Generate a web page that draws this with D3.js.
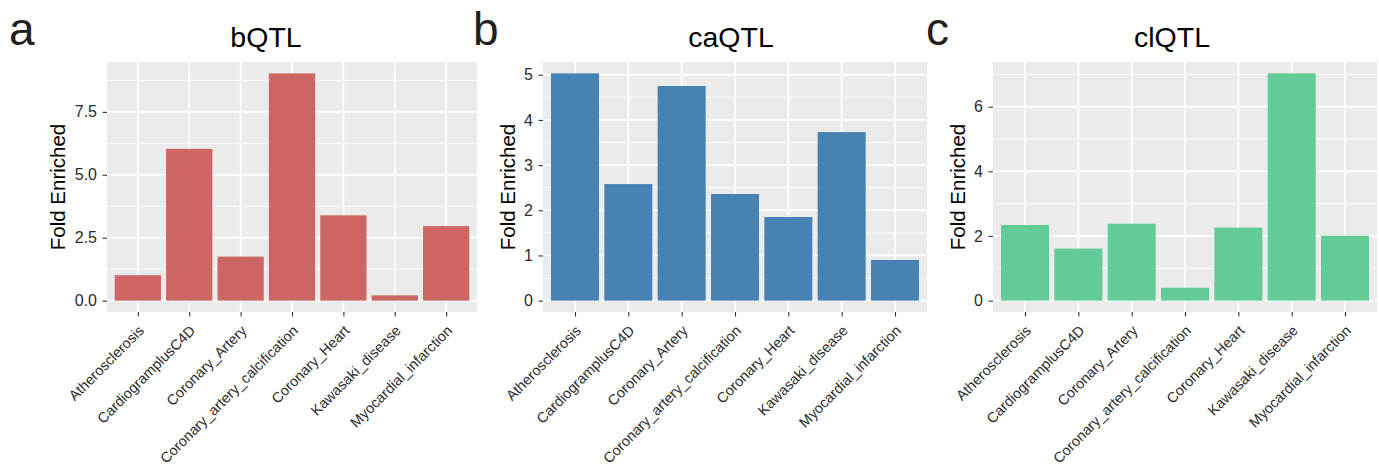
<!DOCTYPE html>
<html>
<head>
<meta charset="utf-8">
<script src="https://cdn.jsdelivr.net/npm/d3@7"></script>
<style>
  body { margin: 0; background: #fff; }
  svg { font-family: "Liberation Sans", Arial, sans-serif; }
</style>
</head>
<body>
<svg id="chart" width="1379" height="466"></svg>
<script>
'use strict';

// data
let categories = ['Atherosclerosis', 'CardiogramplusC4D', 'Coronary_Artery',
    'Coronary_artery_calcification', 'Coronary_Heart', 'Kawasaki_disease', 'Myocardial_infarction'];
let bqtl = [1.01, 6.03, 1.75, 9.03, 3.39, 0.21, 2.96];
let caqtl = [5.03, 2.58, 4.75, 2.36, 1.85, 3.73, 0.90];
let clqtl = [2.34, 1.61, 2.38, 0.40, 2.26, 7.03, 2.01];
let titles = ['bQTL', 'caQTL', 'clQTL'];
let letters = ['a', 'b', 'c'];
let bqtlTicks = [0, 2.5, 5, 7.5];
let caqtlTicks = [0, 1, 2, 3, 4, 5];
let clqtlTicks = [0, 2, 4, 6];
let tickFormats = [d3.format('.1f'), d3.format('d'), d3.format('d')];

let svg = d3.select('#chart');

let panels = [
    {values: bqtl, ticks: bqtlTicks, color: '#CD6562', left: 107, right: 477, letterX: 9, titleX: 266, axisTitleX: 65},
    {values: caqtl, ticks: caqtlTicks, color: '#4682B4', left: 543, right: 927, letterX: 473, titleX: 731, axisTitleX: 515},
    {values: clqtl, ticks: clqtlTicks, color: '#63CB98', left: 993, right: 1377, letterX: 926, titleX: 1172, axisTitleX: 965}
];
let panelTop = 62;
let panelBottom = 312;

panels.forEach(function(p, i) {
    let g = svg.append('g');
    let max = d3.max(p.values);
    let y = d3.scaleLinear()
        .domain([-0.05 * max, 1.05 * max])
        .range([panelBottom, panelTop]);
    let x = d3.scalePoint()
        .domain(categories)
        .range([p.left, p.right])
        .padding(0.6);
    let bw = x.step() * 0.9;

    // panel background
    g.append('rect')
        .attr('x', p.left)
        .attr('y', panelTop)
        .attr('width', p.right - p.left)
        .attr('height', panelBottom - panelTop)
        .attr('fill', '#EBEBEB');

    // minor grid, halfway between the breaks
    let step = p.ticks[1] - p.ticks[0];
    let minor = p.ticks.map(v => v + step / 2).filter(v => v < y.domain()[1]);
    g.selectAll('.minor')
        .data(minor)
        .enter().append('line')
        .attr('x1', p.left).attr('x2', p.right)
        .attr('y1', d => y(d)).attr('y2', d => y(d))
        .attr('stroke', '#fff').attr('stroke-width', 0.9);

    // major grid
    g.selectAll('.major')
        .data(p.ticks)
        .enter().append('line')
        .attr('x1', p.left).attr('x2', p.right)
        .attr('y1', d => y(d)).attr('y2', d => y(d))
        .attr('stroke', '#fff').attr('stroke-width', 1.8);
    g.selectAll('.vmajor')
        .data(categories)
        .enter().append('line')
        .attr('x1', d => x(d)).attr('x2', d => x(d))
        .attr('y1', panelTop).attr('y2', panelBottom)
        .attr('stroke', '#fff').attr('stroke-width', 1.8);

    // bars
    g.selectAll('.bar')
        .data(p.values)
        .enter().append('rect')
        .attr('x', (d, j) => x(categories[j]) - bw / 2)
        .attr('y', d => y(d))
        .attr('width', bw)
        .attr('height', d => y(0) - y(d))
        .attr('fill', p.color);

    // y axis
    let ya = g.append('g')
        .attr('transform', 'translate(' + p.left + ',0)')
        .call(d3.axisLeft(y).tickValues(p.ticks).tickFormat(tickFormats[i])
            .tickSize(4.5).tickPadding(5.5));
    ya.select('.domain').remove();
    ya.selectAll('line').attr('stroke', '#333').attr('stroke-width', 1.1);
    ya.selectAll('text')
        .attr('fill', '#2b2b2b')
        .style('font-size', '16px')
        .style('font-family', '"Liberation Sans", Arial, sans-serif');

    // x axis
    let xa = g.append('g')
        .attr('transform', 'translate(0,' + panelBottom + ')')
        .call(d3.axisBottom(x).tickSize(4.5).tickSizeOuter(0));
    xa.select('.domain').remove();
    xa.selectAll('line').attr('stroke', '#333').attr('stroke-width', 1.1);
    xa.selectAll('text')
        .attr('fill', '#2b2b2b')
        .attr('y', 0)
        .attr('dy', null)
        .attr('text-anchor', 'end')
        .attr('transform', 'translate(6.5,19.5) rotate(-45)')
        .style('font-size', '14.5px')
        .style('font-family', '"Liberation Sans", Arial, sans-serif');

    // axis title
    g.append('text')
        .attr('transform', 'translate(' + p.axisTitleX + ',' + (panelTop + panelBottom) / 2 + ') rotate(-90)')
        .attr('text-anchor', 'middle')
        .style('font-size', '20.5px')
        .text('Fold Enriched');

    // plot title
    g.append('text')
        .attr('x', p.titleX)
        .attr('y', 47)
        .attr('text-anchor', 'middle')
        .style('font-size', '28.5px')
        .text(titles[i]);

    // panel letter
    g.append('text')
        .attr('x', p.letterX)
        .attr('y', 45)
        .style('font-size', '46px')
        .attr('fill', '#231F20')
        .text(letters[i]);
});
</script>
</body>
</html>
